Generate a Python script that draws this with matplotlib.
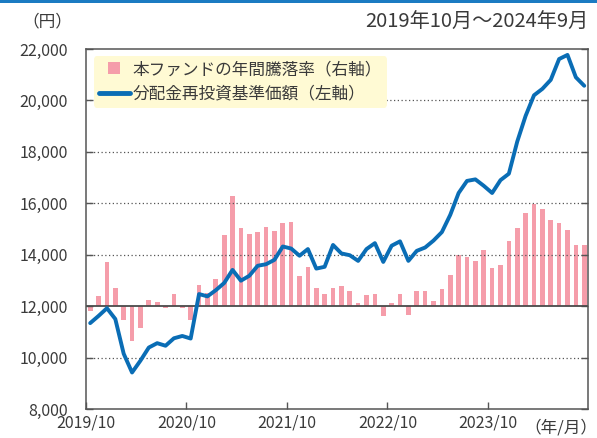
import numpy as np
import matplotlib
matplotlib.use("Agg")
import matplotlib.pyplot as plt
from matplotlib.lines import Line2D
from matplotlib.patches import Rectangle

plt.rcParams['font.family'] = ['Noto Sans CJK JP', 'DejaVu Sans']

# 2019/10 .. 2024/9, monthly
months = np.arange(60)

# 分配金再投資基準価額 (円, left axis)
nav = [11340, 11620, 11920, 11500, 10150, 9420, 9880, 10390, 10560, 10460,
       10750, 10840, 10740, 12470, 12380, 12620, 12900, 13410, 12990, 13180,
       13570, 13630, 13800, 14320, 14240, 13960, 14220, 13460, 13530, 14380,
       14050, 13980, 13760, 14220, 14450, 13720, 14350, 14520, 13760, 14150,
       14280, 14550, 14880, 15550, 16400, 16870, 16930, 16680, 16400, 16900,
       17150, 18400, 19400, 20200, 20450, 20800, 21610, 21770, 20900, 20570]

# 本ファンドの年間騰落率 (%, right axis - hidden)
ret = [-1.0, 1.9, 8.6, 3.6, -2.7, -6.8, -4.3, 1.2, 0.8, -0.3,
       2.3, -0.3, -2.6, 4.1, 2.5, 5.2, 13.9, 21.5, 15.2, 14.1,
       14.4, 15.4, 14.6, 16.2, 16.3, 5.8, 7.6, 3.6, 2.3, 3.6,
       4.0, 2.9, 0.6, 2.1, 2.3, -1.9, 0.6, 2.3, -1.8, 2.9,
       2.9, 1.0, 3.4, 6.1, 9.9, 9.6, 8.8, 11.0, 7.4, 8.0,
       12.6, 15.2, 18.2, 19.8, 18.8, 16.8, 16.2, 14.8, 11.9, 11.9]

yticks = [8000, 10000, 12000, 14000, 16000, 18000, 20000, 22000]
xtick_pos = [-0.5, 11.5, 23.5, 35.5, 47.5]
xtick_labels = ['2019/10', '2020/10', '2021/10', '2022/10', '2023/10']

bar_color = '#F59DAA'
line_color = '#0A6DB5'
bg_color = '#FFFAD4'
text_color = '#3a3a3a'
spine_color = '#555555'

fig = plt.figure(figsize=(5.97, 4.38), dpi=100)
ax = fig.add_axes([86/597, 29/438, 502/597, 360/438])
ax2 = ax.twinx()

# bars on the hidden right axis, beneath the left axis
ax.set_zorder(ax2.get_zorder() + 1)
ax.patch.set_visible(False)
ax2.patch.set_facecolor(bg_color)
ax2.bar(months, ret, width=0.56, color=bar_color, linewidth=0)
ax2.set_ylim(-20, 50)
ax2.set_yticks([])
for s in ax2.spines.values():
    s.set_visible(False)

# left axis
ax.set_xlim(-0.5, 59.45)
ax.set_ylim(8000, 22000)
for y in [10000, 14000, 16000, 18000, 20000]:
    ax.axhline(y, color=spine_color, lw=0.9, ls=(0, (1, 2)), zorder=1)
ax.axhline(12000, color='#4a4a4a', lw=1.3, zorder=2)
ax.plot(months, nav, color=line_color, lw=2.8, solid_joinstyle='round',
        solid_capstyle='round', zorder=3)

ax.set_yticks(yticks)
ax.set_yticklabels([f'{v:,}' for v in yticks])
ax.set_xticks(xtick_pos)
ax.set_xticklabels(xtick_labels)
ax.tick_params(axis='y', direction='in', length=5, width=1, right=True,
               color=spine_color, labelsize=11.5, labelcolor=text_color, pad=13)
ax.tick_params(axis='x', direction='in', length=5, width=1,
               color=spine_color, labelsize=11.5, labelcolor=text_color, pad=4)
for s in ax.spines.values():
    s.set_color(spine_color)
    s.set_linewidth(1.1)

handles = [Line2D([], [], ls='none', marker='s', markersize=9,
                  markerfacecolor=bar_color, markeredgewidth=0),
           Line2D([], [], color=line_color, lw=3.5, solid_capstyle='round')]
labels = ['本ファンドの年間騰落率（右軸）', '分配金再投資基準価額（左軸）']
leg = ax.legend(handles, labels, loc='upper left', bbox_to_anchor=(0.015, 0.98),
                frameon=True, facecolor=bg_color, edgecolor='none', framealpha=1,
                fontsize=12, handlelength=1.9, handletextpad=0.15,
                labelspacing=0.45, borderpad=0.3, borderaxespad=0)
for t in leg.get_texts():
    t.set_color(text_color)

fig.text(72/597, 1 - 22/438, '（円）', ha='right', va='center', fontsize=12,
         color=text_color)
fig.text(588/597, 1 - 22/438, '2019年10月～2024年9月', ha='right', va='center',
         fontsize=14.5, color=text_color)
fig.text(597/597, 1 - 428/438, '（年/月）', ha='right', va='center', fontsize=12,
         color=text_color)
fig.patches.append(Rectangle((0, 1 - 3/438), 1, 3/438, transform=fig.transFigure,
                             facecolor='#1B7BC2', edgecolor='none'))

fig.savefig('out.png', dpi=100, facecolor='white')
